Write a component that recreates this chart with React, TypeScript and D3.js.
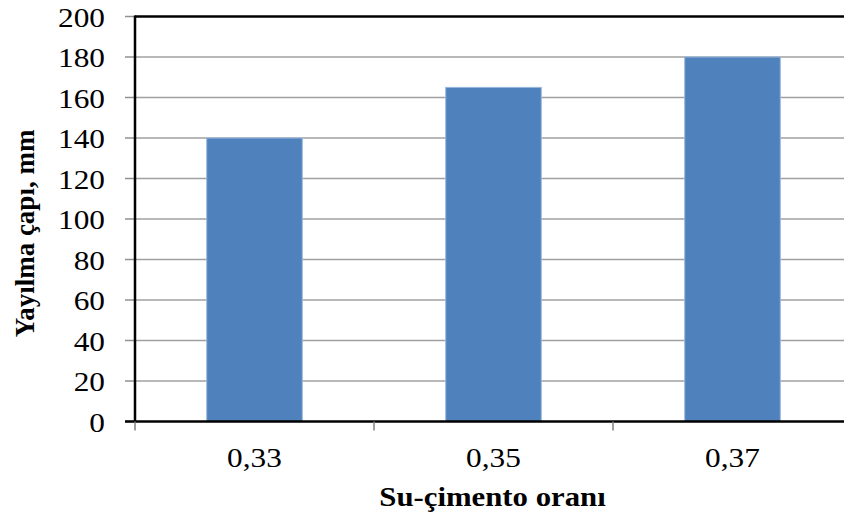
import React from "react";
import * as d3 from "d3";

const categories = ["0,33", "0,35", "0,37"];
const values = [140, 165, 180];
const yTicks = [0, 20, 40, 60, 80, 100, 120, 140, 160, 180, 200];
const yTitle = "Yayılma çapı, mm";
const xTitle = "Su-çimento oranı";

const W = 844;
const H = 517;
const left = 135;
const right = 852;
const top = 16.5;
const bottom = 421.5;
const SX = 1.16;
const FS = 27;
const font = "'Liberation Serif', 'Times New Roman', serif";

export default function App() {
  const x = d3.scaleBand<string>().domain(categories).range([left, right]).paddingInner(0.6).paddingOuter(0.3);
  const y = d3.scaleLinear().domain([0, 200]).range([bottom, top]);
  const step = x.step();
  const bounds = categories.map((_, i) => left + i * step);

  return (
    <svg width={W} height={H} style={{ position: "absolute", left: 0, top: 0, background: "#fff" }}>
      {yTicks.map((t) => (
        <g key={t}>
          {t > 0 && t < 200 && (
            <line x1={left} x2={W} y1={y(t)} y2={y(t)} stroke="#a0a0a0" strokeWidth={1.5} />
          )}
          <line x1={left - 10} x2={left} y1={y(t)} y2={y(t)} stroke="#909090" strokeWidth={1.5} />
          <text
            transform={`translate(105,${y(t) + 10}) scale(${SX},1)`}
            textAnchor="end"
            fontFamily={font}
            fontSize={FS}
            fill="#000"
          >
            {t}
          </text>
        </g>
      ))}
      {categories.map((c, i) => (
        <rect
          key={c}
          x={x(c)!}
          y={y(values[i])}
          width={x.bandwidth()}
          height={bottom - y(values[i])}
          fill="#4f81bd"
          stroke="#9ab8dc"
          strokeWidth={1}
        />
      ))}
      <line x1={left} x2={W} y1={top} y2={top} stroke="#000" strokeWidth={2.5} />
      <line x1={left} x2={left} y1={top - 1} y2={bottom + 1} stroke="#000" strokeWidth={2.5} />
      <line x1={left - 10} x2={W} y1={bottom} y2={bottom} stroke="#000" strokeWidth={2.5} />
      {bounds.map((b, i) => (
        <line key={i} x1={b} x2={b} y1={bottom} y2={bottom + 9} stroke="#808080" strokeWidth={1.5} />
      ))}
      {categories.map((c) => (
        <text
          key={c}
          transform={`translate(${x(c)! + x.bandwidth() / 2},466.5) scale(${SX},1)`}
          textAnchor="middle"
          fontFamily={font}
          fontSize={FS}
          fill="#000"
        >
          {c}
        </text>
      ))}
      <text
        transform={`translate(492.5,505.5) scale(1.14,1)`}
        textAnchor="middle"
        fontFamily={font}
        fontSize={FS}
        fontWeight="bold"
        fill="#000"
      >
        {xTitle}
      </text>
      <text
        transform={`translate(34,233.5) rotate(-90)`}
        textAnchor="middle"
        fontFamily={font}
        fontSize={FS}
        fontWeight="bold"
        fill="#000"
      >
        {yTitle}
      </text>
    </svg>
  );
}
